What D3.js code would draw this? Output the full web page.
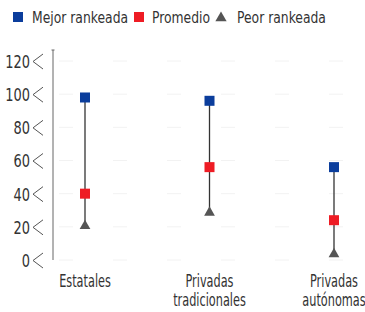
<!DOCTYPE html>
<html>
<head>
<meta charset="utf-8">
<script src="https://cdn.jsdelivr.net/npm/d3@7"></script>
<style>
  body { margin: 0; background: #fff; }
  text { font-family: "DejaVu Sans Condensed", "Liberation Sans Narrow", "Roboto", sans-serif; fill: #333; }
</style>
</head>
<body>
<div class="chart"></div>
<script>
// Data
const categories = [['Estatales'], ['Privadas', 'tradicionales'], ['Privadas', 'autónomas']];
const mejor = [98, 96, 56];
const promedio = [40, 56, 24];
const peor = [20, 28, 3];
const yTicks = [0, 20, 40, 60, 80, 100, 120];
const legendItems = ['Mejor rankeada', 'Promedio', 'Peor rankeada'];

const width = 365, height = 312;
const margin = { top: 61, bottom: 52, left: 53, right: 0 };

const svg = d3.select('.chart')
  .append('svg')
  .attr('width', width)
  .attr('height', height);

const keys = categories.map(c => c.join(' '));

// condensed text: squeeze horizontally around its own anchor
function squeeze(sel, x, y, sx) {
  sel.attr('x', null).attr('y', null)
    .attr('transform', `translate(${x},${y}) scale(${sx},1)`);
}

// Scales
const x = d3.scalePoint()
  .domain(keys)
  .range([85, 334]);

const y = d3.scaleLinear()
  .domain([0, 120])
  .range([height - margin.bottom, margin.top]);

// Faint gridlines
svg.append('g')
  .selectAll('line')
  .data(yTicks)
  .join('line')
  .attr('x1', margin.left + 6)
  .attr('x2', width)
  .attr('y1', d => y(d))
  .attr('y2', d => y(d))
  .attr('stroke', '#f2f2f2')
  .attr('stroke-dasharray', '14,40');

// Y axis
const yAxis = d3.axisLeft(y)
  .tickValues(yTicks)
  .tickSize(0);

const yAxisDraw = svg.append('g')
  .attr('transform', `translate(${margin.left},0)`)
  .call(yAxis);

yAxisDraw.select('.domain')
  .attr('d', `M0,${y(0)}V${y(120) - 11}M-1.5,${y(120) - 11}H1.5`)
  .attr('stroke', '#666');

yAxisDraw.selectAll('.tick text')
  .attr('font-size', 18)
  .attr('fill', '#333')
  .attr('dy', '0.36em')
  .each(function () { squeeze(d3.select(this), -23, 0, 0.8); });

// chevrons
yAxisDraw.selectAll('.tick')
  .append('path')
  .attr('d', 'M-10,-7.5L-20,0L-10,7.5')
  .attr('fill', 'none')
  .attr('stroke', '#555')
  .attr('stroke-width', 1);

// X labels
const xLabels = svg.append('g')
  .selectAll('text')
  .data(categories)
  .join('text')
  .attr('text-anchor', 'middle')
  .attr('font-size', 17)
  .attr('transform', d => `translate(${x(d.join(' '))},287) scale(0.74,1)`);

xLabels.selectAll('tspan')
  .data(d => d)
  .join('tspan')
  .attr('x', 0)
  .attr('dy', (d, i) => i === 0 ? 0 : 19)
  .text(d => d);

// Lines
svg.append('g')
  .selectAll('line')
  .data(keys)
  .join('line')
  .attr('x1', d => x(d))
  .attr('x2', d => x(d))
  .attr('y1', (d, i) => y(mejor[i]))
  .attr('y2', (d, i) => y(peor[i]))
  .attr('stroke', '#333')
  .attr('stroke-width', 1.3);

const sq = 10;
const tri = d3.symbol().type(d3.symbolTriangle).size(50);

// Peor
svg.append('g')
  .selectAll('path')
  .data(keys)
  .join('path')
  .attr('d', tri)
  .attr('transform', (d, i) => `translate(${x(d)},${y(peor[i]) - 1})`)
  .attr('fill', '#555');

// Promedio
svg.append('g')
  .selectAll('rect')
  .data(keys)
  .join('rect')
  .attr('x', d => x(d) - sq / 2)
  .attr('y', (d, i) => y(promedio[i]) - sq / 2)
  .attr('width', sq)
  .attr('height', sq)
  .attr('fill', '#ee1c24');

// Mejor
svg.append('g')
  .selectAll('rect')
  .data(keys)
  .join('rect')
  .attr('x', d => x(d) - sq / 2)
  .attr('y', (d, i) => y(mejor[i]) - sq / 2)
  .attr('width', sq)
  .attr('height', sq)
  .attr('fill', '#0b3d9c');

// Legend
const legend = svg.append('g').attr('transform', 'translate(0,17)');
legend.append('rect').attr('x', 13).attr('y', -5).attr('width', 10).attr('height', 10).attr('fill', '#0b3d9c');
legend.append('rect').attr('x', 134).attr('y', -5).attr('width', 10).attr('height', 10).attr('fill', '#ee1c24');
legend.append('path').attr('d', d3.symbol().type(d3.symbolTriangle).size(55)).attr('transform', 'translate(221,1)').attr('fill', '#555');

const legendX = [32, 152, 237];
legend.selectAll('text')
  .data(legendItems)
  .join('text')
  .attr('font-size', 16)
  .text(d => d)
  .each(function (d, i) { squeeze(d3.select(this), legendX[i], 6, 0.86); });
</script>
</body>
</html>
